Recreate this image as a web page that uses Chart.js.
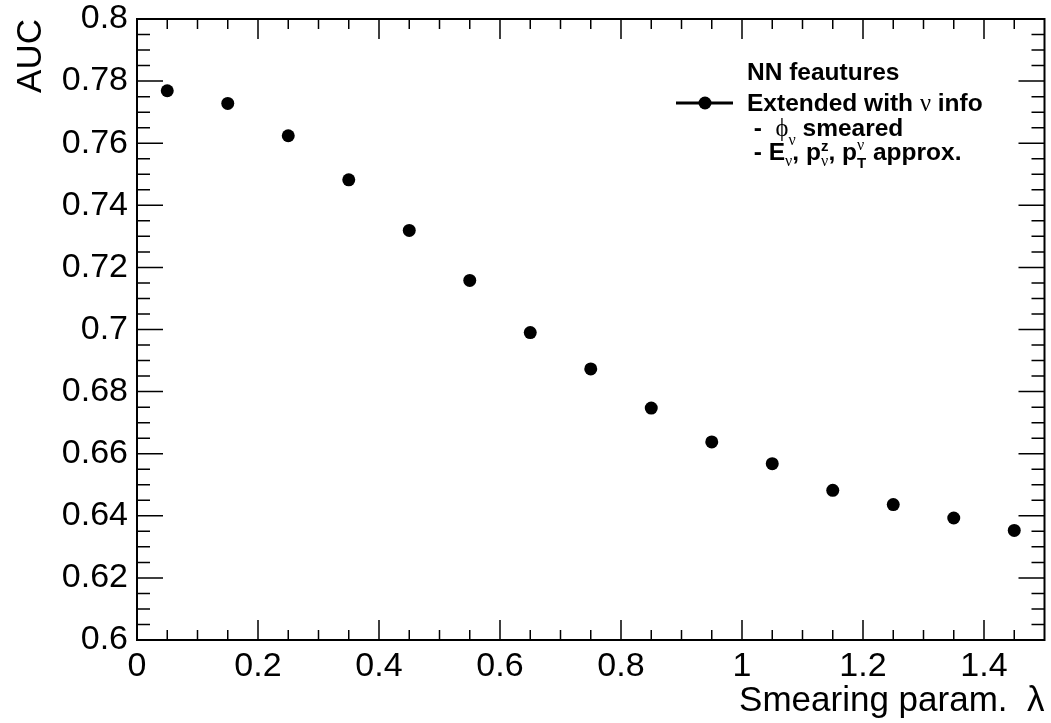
<!DOCTYPE html>
<html lang="en">
<head>
<meta charset="UTF-8">
<title>AUC vs smearing parameter</title>
<style>
  body { margin: 0; background: #fff; }
</style>
</head>
<body>
<canvas id="myChart" width="1051" height="723"></canvas>
<script src="https://cdn.jsdelivr.net/npm/chart.js"></script>
<script>
// values
const lambdas = [0.05, 0.15, 0.25, 0.35, 0.45, 0.55, 0.65, 0.75, 0.85, 0.95, 1.05, 1.15, 1.25, 1.35, 1.45];
const aucValues = [0.7769, 0.7728, 0.7624, 0.7482, 0.7319, 0.7158, 0.6990, 0.6873, 0.6747, 0.6638, 0.6568, 0.6482, 0.6436, 0.6393, 0.6353];

const xTicks = [0, 0.2, 0.4, 0.6, 0.8, 1.0, 1.2, 1.4];
const xTickLabels = ['0', '0.2', '0.4', '0.6', '0.8', '1', '1.2', '1.4'];
const yTicks = [0.6, 0.62, 0.64, 0.66, 0.68, 0.7, 0.72, 0.74, 0.76, 0.78, 0.8];
const yTickLabels = ['0.6', '0.62', '0.64', '0.66', '0.68', '0.7', '0.72', '0.74', '0.76', '0.78', '0.8'];

const seriesName = 'Extended with ν info';

const FONT = '"Liberation Sans", Arial, sans-serif';
const B = 'bold 24.5px ' + FONT;
const G = '24.5px "Liberation Serif", serif';
const SB = 'bold 15px ' + FONT;
const SG = '16px "Liberation Serif", serif';

// ROOT style frame: box with inward ticks on all four sides
const framePlugin = {
  id: 'frame',
  afterDatasetsDraw(chart) {
    const ctx = chart.ctx;
    const a = chart.chartArea;
    const xs = chart.scales.x, ys = chart.scales.y;
    ctx.save();
    ctx.strokeStyle = '#000';
    ctx.lineWidth = 2;
    ctx.strokeRect(a.left, a.top, a.right - a.left, a.bottom - a.top);
    ctx.lineWidth = 1.5;
    ctx.beginPath();
    for (let i = 1; i < 30; i++) {
      const px = xs.getPixelForValue(i * 0.05);
      const len = i % 4 === 0 ? 20 : 10;
      ctx.moveTo(px, a.bottom); ctx.lineTo(px, a.bottom - len);
      ctx.moveTo(px, a.top); ctx.lineTo(px, a.top + len);
    }
    for (let i = 1; i < 40; i++) {
      const py = ys.getPixelForValue(0.6 + i * 0.005);
      const len = i % 4 === 0 ? 26 : 13;
      ctx.moveTo(a.left, py); ctx.lineTo(a.left + len, py);
      ctx.moveTo(a.right, py); ctx.lineTo(a.right - len, py);
    }
    ctx.stroke();
    ctx.restore();
  }
};

function drawRich(ctx, x, y, parts) {
  let stackW = 0;
  for (const p of parts) {
    ctx.font = p.f;
    ctx.fillText(p.t, x, y + (p.dy || 0));
    const w = ctx.measureText(p.t).width;
    if (p.stack) {
      stackW = Math.max(stackW, w);
    } else {
      x += Math.max(stackW, w);
      stackW = 0;
    }
  }
}

const legendPlugin = {
  id: 'rootLegend',
  afterDraw(chart) {
    const ctx = chart.ctx;
    ctx.save();
    ctx.fillStyle = '#000';
    ctx.strokeStyle = '#000';
    ctx.textBaseline = 'alphabetic';
    ctx.textAlign = 'left';
    // marker for the series
    ctx.lineWidth = 3;
    ctx.beginPath();
    ctx.moveTo(676, 103); ctx.lineTo(733, 103);
    ctx.stroke();
    ctx.beginPath();
    ctx.arc(705, 103, 6.5, 0, Math.PI * 2);
    ctx.fill();

    const tx = 747;
    drawRich(ctx, tx, 80, [{ t: 'NN feautures', f: B }]);
    drawRich(ctx, tx, 111, [{ t: 'Extended with ', f: B }, { t: 'ν', f: G }, { t: ' info', f: B }]);
    drawRich(ctx, tx, 136, [
      { t: ' -  ', f: B }, { t: 'ϕ', f: G }, { t: 'ν', f: SG, dy: 9 }, { t: ' smeared', f: B }
    ]);
    drawRich(ctx, tx, 160, [
      { t: ' - E', f: B }, { t: 'ν', f: SG, dy: 6 }, { t: ', p', f: B },
      { t: 'z', f: SB, dy: -9, stack: true }, { t: 'ν', f: SG, dy: 6 },
      { t: ', p', f: B },
      { t: 'ν', f: SG, dy: -10, stack: true }, { t: 'T', f: SB, dy: 8 },
      { t: ' approx.', f: B }
    ]);
    ctx.restore();
  }
};

const ctx = document.getElementById('myChart');

new Chart(ctx, {
  type: 'scatter',
  data: {
    datasets: [{
      label: seriesName,
      data: lambdas.map((l, i) => ({ x: l, y: aucValues[i] })),
      backgroundColor: '#000',
      borderColor: '#000',
      pointRadius: 6.5,
      pointBorderWidth: 0,
      showLine: false
    }]
  },
  options: {
    responsive: false,
    animation: false,
    devicePixelRatio: 1,
    layout: { padding: { top: 19, right: 4, left: 0, bottom: 0 } },
    plugins: {
      legend: { display: false },
      tooltip: { enabled: false }
    },
    scales: {
      x: {
        type: 'linear',
        min: 0,
        max: 1.5,
        afterFit: (s) => { s.height = 83; s.paddingLeft = 0; s.paddingRight = 0; },
        afterBuildTicks: (s) => { s.ticks = xTicks.map(v => ({ value: v })); },
        grid: { display: false, drawTicks: false },
        border: { display: false },
        ticks: {
          autoSkip: false,
          maxRotation: 0,
          padding: 6,
          color: '#000',
          font: { family: FONT, size: 34 },
          callback: (v, i) => xTickLabels[i]
        },
        title: {
          display: true,
          text: 'Smearing param.  λ',
          align: 'end',
          color: '#000',
          font: { family: FONT, size: 35 },
          padding: { top: 0, bottom: 1 }
        }
      },
      y: {
        type: 'linear',
        min: 0.6,
        max: 0.8,
        afterFit: (s) => { s.width = 137; s.paddingTop = 0; s.paddingBottom = 0; },
        afterBuildTicks: (s) => { s.ticks = yTicks.map(v => ({ value: v })); },
        grid: { display: false, drawTicks: false },
        border: { display: false },
        ticks: {
          autoSkip: false,
          padding: 9,
          color: '#000',
          font: { family: FONT, size: 34 },
          callback: (v, i) => yTickLabels[i]
        },
        title: {
          display: true,
          text: 'AUC',
          align: 'end',
          color: '#000',
          font: { family: FONT, size: 35 },
          padding: { top: 10, bottom: 0 }
        }
      }
    }
  },
  plugins: [framePlugin, legendPlugin]
});
</script>
</body>
</html>
